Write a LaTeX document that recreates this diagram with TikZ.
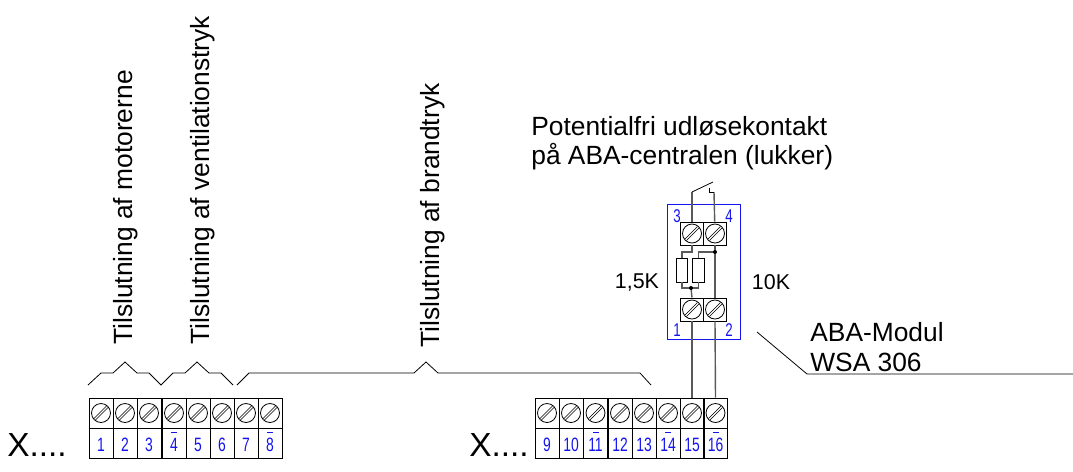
\documentclass[tikz,border=0pt]{standalone}
\usepackage{fontspec}
\setmainfont{Liberation Sans}
\newfontfamily\cadfont[FakeStretch=0.72]{Liberation Sans}
\definecolor{cadblue}{RGB}{20,20,235}
\definecolor{wiregrey}{RGB}{90,90,90}
\usetikzlibrary{positioning}
\tikzset{
    screwbox/.style={draw, line width=0.55pt, minimum width=0.48cm, minimum height=0.6cm, inner sep=0pt,
        path picture={
            \draw[line width=0.45pt] (path picture bounding box.center) circle (0.19cm);
            \draw[line width=0.4pt, double=white, double distance=0.7pt] ([shift={(-0.125cm,-0.125cm)}]path picture bounding box.center) -- ([shift={(0.125cm,0.125cm)}]path picture bounding box.center);
        }},
    numbox/.style={draw, line width=0.55pt, minimum width=0.48cm, minimum height=0.6cm, inner sep=0pt, text=cadblue, text height=10.2pt, text depth=0pt, font=\cadfont\fontsize{11}{11}\selectfont},
    barnum/.style={numbox, path picture={
            \draw[cadblue, line width=0.4pt] ([shift={(-0.06cm,-0.08cm)}]path picture bounding box.north) -- ([shift={(0.06cm,-0.08cm)}]path picture bounding box.north);
        }},
    pinlabel/.style={text=cadblue, inner sep=0pt, font=\cadfont\fontsize{10.5}{10.5}\selectfont},
    biglabel/.style={inner sep=0pt, font=\fontsize{15}{16.5}\selectfont},
    xlabel/.style={inner sep=0pt, font=\fontsize{19}{19}\selectfont},
    midlabel/.style={inner sep=0pt, font=\fontsize{12.2}{14}\selectfont},
    wire/.style={wiregrey, line width=0.8pt},
    thinline/.style={line width=0.45pt},
    resistor/.style={draw, line width=0.55pt, minimum width=0.23cm, minimum height=0.48cm, inner sep=0pt}
}
\begin{document}
\begin{tikzpicture}[x=0.02cm, y=-0.02cm]
        \useasboundingbox (0,0) rectangle (1073,471);
        %left strip
        \node[screwbox] (s1) at (101,413){};
        \node[screwbox] (s2) at (125,413){};
        \node[screwbox] (s3) at (149,413){};
        \node[screwbox] (s4) at (174,413){};
        \node[screwbox] (s5) at (198,413){};
        \node[screwbox] (s6) at (222,413){};
        \node[screwbox] (s7) at (246,413){};
        \node[screwbox] (s8) at (270,413){};
        \node[numbox] (n1) at (101,443){1};
        \node[numbox] (n2) at (125,443){2};
        \node[numbox] (n3) at (149,443){3};
        \node[barnum] (n4) at (174,443){4};
        \node[numbox] (n5) at (198,443){5};
        \node[numbox] (n6) at (222,443){6};
        \node[numbox] (n7) at (246,443){7};
        \node[barnum] (n8) at (270,443){8};
        %right strip
        \node[screwbox] (s9) at (547,413){};
        \node[screwbox] (s10) at (571,413){};
        \node[screwbox] (s11) at (595.5,413){};
        \node[screwbox] (s12) at (620,413){};
        \node[screwbox] (s13) at (644,413){};
        \node[screwbox] (s14) at (668,413){};
        \node[screwbox] (s15) at (692,413){};
        \node[screwbox] (s16) at (715.5,413){};
        \node[numbox] (n9) at (547,443){9};
        \node[numbox] (n10) at (571,443){10};
        \node[barnum] (n11) at (595.5,443){11};
        \node[numbox] (n12) at (620,443){12};
        \node[numbox] (n13) at (644,443){13};
        \node[barnum] (n14) at (668,443){14};
        \node[numbox] (n15) at (692,443){15};
        \node[barnum] (n16) at (715.5,443){16};
        %labels
        \node[xlabel] (x1) at (37,445){X....};
        \node[xlabel] (x2) at (499,445){X....};
        \node[biglabel, rotate=90, anchor=west] (motor) at (126,345){Tilslutning af motorerne};
        \node[biglabel, rotate=90, anchor=west] (vent) at (203,345){Tilslutning af ventilationstryk};
        \node[biglabel, rotate=90, anchor=west] (brand) at (433,348){Tilslutning af brandtryk};
        \node[biglabel, align=left, anchor=north west] (aba) at (531,116){Potentialfri udløsekontakt\\på ABA-centralen (lukker)};
        \node[biglabel, anchor=west] (modul) at (810,332){ABA-Modul};
        \node[biglabel, anchor=west] (wsa) at (810,362){WSA 306};
        \node[midlabel] (r1) at (637,282){1,5K};
        \node[midlabel] (r2) at (771,282){10K};
        %braces
        \coordinate (b1) at (88,385);
        \coordinate (b2) at (233,385);
        \coordinate (b3) at (237,385);
        \coordinate (b4) at (651,385);
        \draw[thinline] (b1) -- (101,373) -- (113,373) -- (125,362) -- (137,373) -- (149,373) -- (161,385) -- (173,373) -- (185,373) -- (197,362) -- (209,373) -- (221,373) -- (b2);
        \draw[thinline] (b3) -- (249,373) -- (414,373) -- (426,362) -- (438,373) -- (640,373) -- (b4);
        %module
        \node[draw=cadblue, line width=0.45pt, minimum width=1.46cm, minimum height=2.7cm, inner sep=0pt] (box) at (703.5,271.5){};
        \node[screwbox, minimum width=0.46cm, minimum height=0.46cm] (u1) at (692,233.5){};
        \node[screwbox, minimum width=0.46cm, minimum height=0.46cm] (u2) at (715,233.5){};
        \node[screwbox, minimum width=0.46cm, minimum height=0.46cm] (d1) at (692,309.5){};
        \node[screwbox, minimum width=0.46cm, minimum height=0.46cm] (d2) at (715,309.5){};
        \node[resistor] (ra) at (682,270){};
        \node[resistor] (rb) at (698.5,270){};
        \node[pinlabel] (p3) at (677,216){3};
        \node[pinlabel] (p4) at (729,216){4};
        \node[pinlabel] (p1) at (677,330){1};
        \node[pinlabel] (p2) at (729,330){2};
        %wires
        \coordinate (c1) at (692,192);
        \coordinate (c2) at (714,192);
        \coordinate (c3) at (713,182);
        \coordinate (c4) at (709,188);
        \coordinate (j1) at (715,252);
        \coordinate (j2) at (691,288);
        \coordinate (j3) at (682,288);
        \coordinate (j4) at (698.5,288);
        \draw[wire] (u1) -- (c1);
        \draw[wire] (u2) -- (c2);
        \draw[thinline] (c1) -- (c3);
        \draw[thinline] (c2) -- (709,192) -- (c4);
        \draw[wire] (d1.south) -- (s15.north);
        \draw[wire] (d2.south) -- (s16.north);
        \draw[wire] (u2.south) -- (d2.north);
        \draw[wire] (ra.north) |- (692,252) -- (u1.south);
        \draw[wire] (rb.north) |- (j1);
        \draw[wire] (ra.south) -- (j3) -- (j4) -- (rb.south);
        \draw[wire] (j2) -- (d1.north);
        \fill (j1) circle (2);
        \fill (j2) circle (2);
        %leader
        \coordinate (l1) at (757,332);
        \coordinate (l2) at (807,374);
        \coordinate (l3) at (1073,374);
        \draw[thinline] (l1) -- (l2) -- (l3);
    \end{tikzpicture}
\end{document}
